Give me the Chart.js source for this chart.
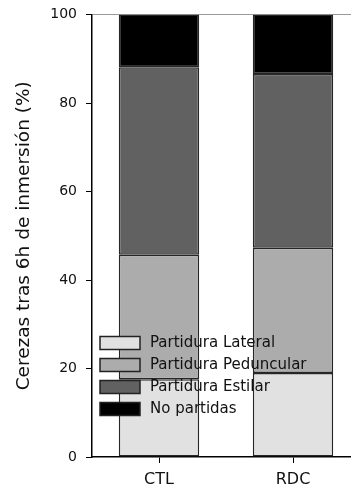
<!DOCTYPE html>
<html lang="es">
<head>
  <meta charset="UTF-8">
  <title>Cerezas tras 6h de inmersión</title>
  <script src="https://cdn.jsdelivr.net/npm/chart.js"></script>
  <style>
    html, body { margin: 0; padding: 0; background: #fff; overflow: hidden; }
    #caja { width: 362px; height: 490px; }
  </style>
</head>
<body>

<div id="caja"><canvas id="grafico"></canvas></div>

<script>
  // Datos (% de cerezas)
  const categorias = ['CTL', 'RDC'];
  const partiduraLateral = [17.6, 19.0];
  const partiduraPeduncular = [28.1, 28.3];
  const partiduraEstilar = [42.4, 39.3];
  const noPartidas = [11.9, 13.4];
  const ticksY = [0, 20, 40, 60, 80, 100];

  const fuente = 'DejaVu Sans';

  // leyenda dibujada dentro del área del gráfico
  const leyendaInterna = {
    id: 'leyendaInterna',
    afterDatasetsDraw(chart) {
      const ctx = chart.ctx;
      ctx.save();
      ctx.font = '15px ' + fuente;
      ctx.textBaseline = 'middle';
      chart.data.datasets.forEach((ds, i) => {
        const yc = 343 + i * 22;
        ctx.fillStyle = ds.backgroundColor;
        ctx.fillRect(100, yc - 6.5, 40, 13);
        ctx.strokeStyle = '#222';
        ctx.lineWidth = 1.5;
        ctx.strokeRect(100, yc - 6.5, 40, 13);
        ctx.fillStyle = '#111';
        ctx.fillText(ds.label, 150, yc);
      });
      ctx.restore();
    }
  };

  const ctx = document.getElementById('grafico').getContext('2d');
  new Chart(ctx, {
    type: 'bar',
    data: {
      labels: categorias,
      datasets: [
        { label: 'Partidura Lateral', data: partiduraLateral, backgroundColor: '#e1e1e1' },
        { label: 'Partidura Peduncular', data: partiduraPeduncular, backgroundColor: '#acacac' },
        { label: 'Partidura Estilar', data: partiduraEstilar, backgroundColor: '#616161' },
        { label: 'No partidas', data: noPartidas, backgroundColor: '#000000' }
      ].map(d => Object.assign(d, {
        borderColor: '#262626', borderWidth: 1.5, borderSkipped: false,
        barPercentage: 0.6, categoryPercentage: 1
      }))
    },
    options: {
      responsive: true,
      maintainAspectRatio: false,
      animation: false,
      layout: { padding: { top: 14, right: 2, left: 0, bottom: 0 } },
      plugins: { legend: { display: false }, tooltip: { enabled: false } },
      scales: {
        x: {
          stacked: true,
          grid: { offset: false, drawOnChartArea: false, color: '#000', tickColor: '#000', tickLength: 6 },
          border: { color: '#000', width: 1.5 },
          ticks: { color: '#111', font: { family: fuente, size: 16 }, padding: 7 },
          afterFit(scale) { scale.height = 33; }
        },
        y: {
          stacked: true,
          min: 0,
          max: 100,
          afterBuildTicks(scale) { scale.ticks = ticksY.map(v => ({ value: v })); },
          grid: {
            color: c => (c.tick && c.tick.value === 100) ? '#9a9a9a' : 'rgba(0,0,0,0)',
            tickColor: '#000',
            tickLength: 6
          },
          border: { color: '#000', width: 1.5 },
          ticks: { color: '#111', font: { family: fuente, size: 14, lineHeight: 0.8 }, padding: 9 },
          title: {
            display: true,
            text: 'Cerezas tras 6h de inmersión (%)',
            color: '#111',
            font: { family: fuente, size: 18.5 },
            padding: { top: 13, bottom: 0 }
          },
          afterFit(scale) { scale.width = 92; }
        }
      }
    },
    plugins: [leyendaInterna]
  });
</script>

</body>
</html>
